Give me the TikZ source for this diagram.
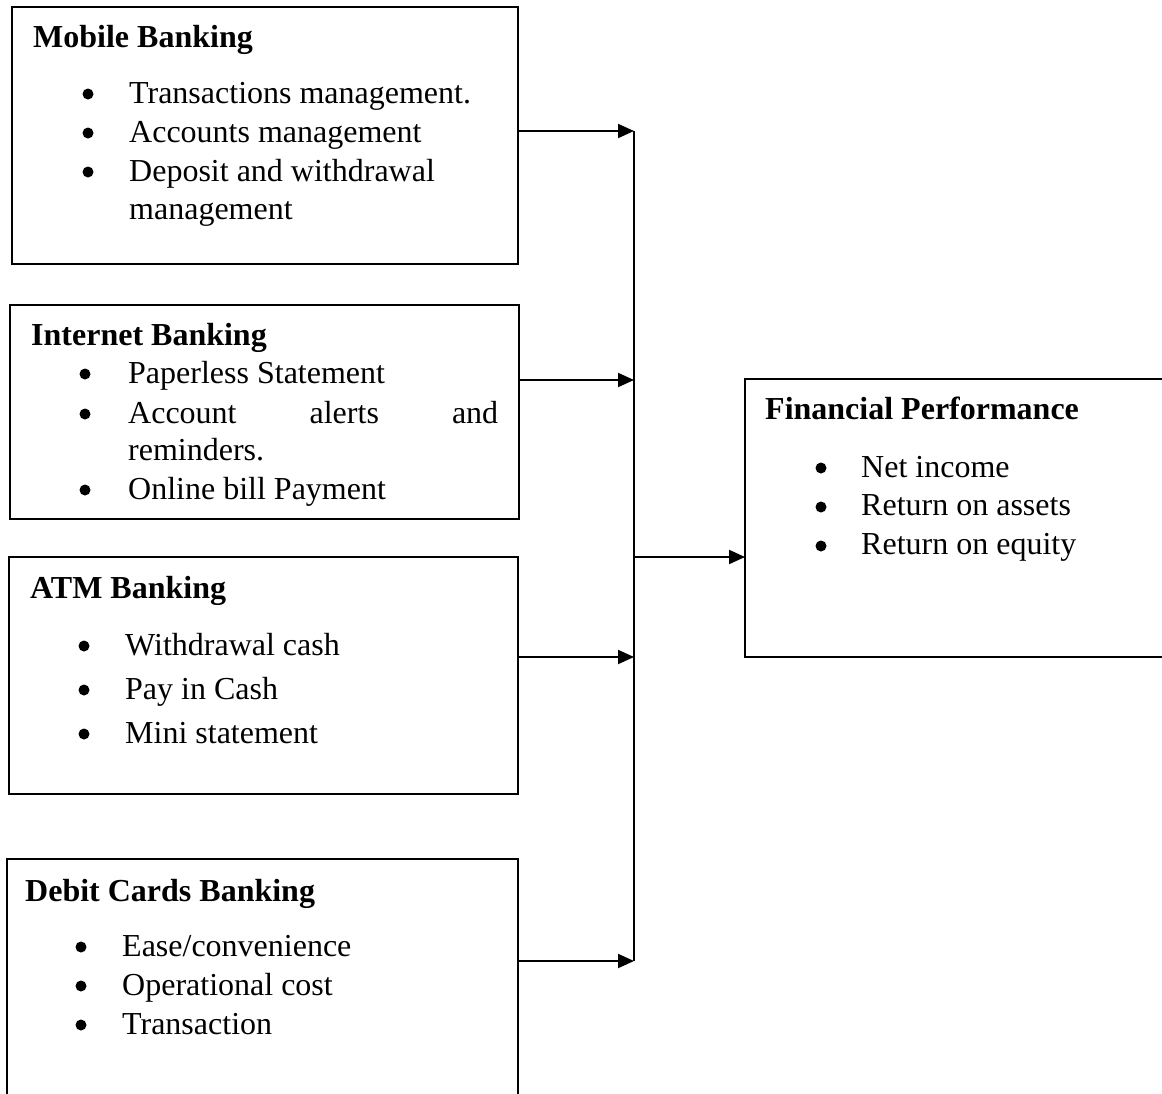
\documentclass[tikz,border=0pt]{standalone}
\usepackage{fontspec}
\setmainfont{Liberation Serif}
\usetikzlibrary{arrows.meta}
\begin{document}
\begin{tikzpicture}[x=1pt,y=-1pt,
  box/.style={draw,line width=2pt,anchor=north west,inner sep=0pt,outer sep=0pt},
  head/.style={anchor=base west,inner sep=0pt,font=\fontsize{32}{38}\selectfont\bfseries},
  item/.style={anchor=base west,inner sep=0pt,font=\fontsize{32}{38}\selectfont},
  dot/.style={circle,fill,inner sep=0pt,minimum size=11pt},
  arr/.style={line width=2pt,-{Triangle[length=16pt,width=14pt]}},
  busline/.style={line width=2pt}]
\useasboundingbox (0,0) rectangle (1162,1093);
\clip (0,0) rectangle (1162,1093);
% boxes
\node[box,minimum width=506pt,minimum height=257pt] (mob) at (12,7) {};
\node[box,minimum width=509pt,minimum height=214pt] (int) at (10,305) {};
\node[box,minimum width=509pt,minimum height=237pt] (atm) at (9,557) {};
\node[box,minimum width=511pt,minimum height=260pt] (deb) at (7,859) {};
\node[box,minimum width=440pt,minimum height=278pt] (fin) at (745,379) {};
% Mobile
\node[head] (mobh) at (33,47) {Mobile Banking};
\node[dot] (mobd1) at (88,94) {};
\node[dot] (mobd2) at (88,133) {};
\node[dot] (mobd3) at (88,172) {};
\node[item] (mob1) at (129,103) {Transactions management.};
\node[item] (mob2) at (129,142) {Accounts management};
\node[item] (mob3) at (129,181) {Deposit and withdrawal};
\node[item] (mob4) at (129,219) {management};
% Internet
\node[head] (inth) at (31,345) {Internet Banking};
\node[dot] (intd1) at (85,374) {};
\node[dot] (intd2) at (85,414) {};
\node[dot] (intd3) at (85,490) {};
\node[item] (int1) at (128,383) {Paperless Statement};
\node[item] (int2) at (128,423) {\makebox[370pt][s]{Account alerts and}};
\node[item] (int3) at (128,460) {reminders.};
\node[item] (int4) at (128,499) {Online bill Payment};
% ATM
\node[head] (atmh) at (30,598) {ATM Banking};
\node[dot] (atmd1) at (84,646) {};
\node[dot] (atmd2) at (84,690) {};
\node[dot] (atmd3) at (84,734) {};
\node[item] (atm1) at (125,655) {Withdrawal cash};
\node[item] (atm2) at (125,699) {Pay in Cash};
\node[item] (atm3) at (125,743) {Mini statement};
% Debit
\node[head] (debh) at (25,901) {Debit Cards Banking};
\node[dot] (debd1) at (81,947) {};
\node[dot] (debd2) at (81,986) {};
\node[dot] (debd3) at (81,1025) {};
\node[item] (deb1) at (122,956) {Ease/convenience};
\node[item] (deb2) at (122,995) {Operational cost};
\node[item] (deb3) at (122,1034) {Transaction};
% Financial
\node[head] (finh) at (765,419) {Financial Performance};
\node[dot] (find1) at (821,468) {};
\node[dot] (find2) at (821,507) {};
\node[dot] (find3) at (821,546) {};
\node[item] (fin1) at (861,477) {Net income};
\node[item] (fin2) at (861,515) {Return on assets};
\node[item] (fin3) at (861,554) {Return on equity};
% connectors
\coordinate (b1) at (634,131);
\coordinate (b2) at (634,380);
\coordinate (b3) at (634,657);
\coordinate (b4) at (634,961);
\coordinate (bj) at (634,557);
\draw[busline] (b1) -- (b4);
\draw[arr] (mob.east |- b1) -- (b1);
\draw[arr] (int.east |- b2) -- (b2);
\draw[arr] (atm.east |- b3) -- (b3);
\draw[arr] (deb.east |- b4) -- (b4);
\draw[arr] (bj) -- (fin.west |- bj);
\end{tikzpicture}
\end{document}
